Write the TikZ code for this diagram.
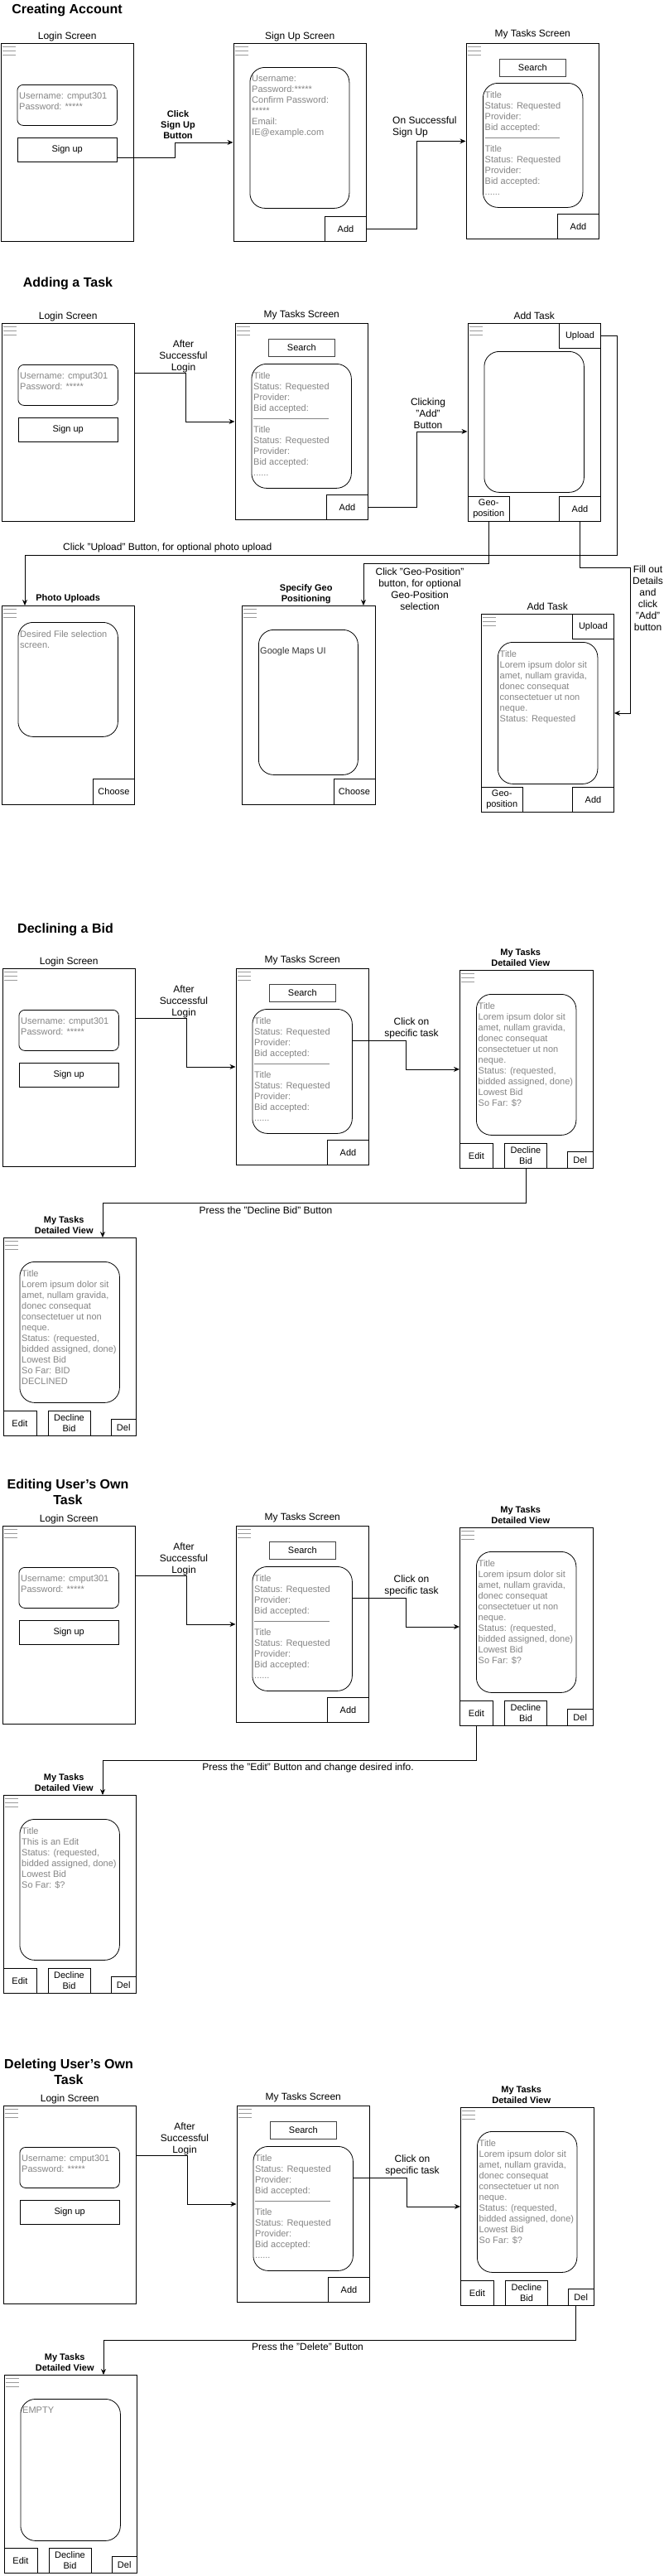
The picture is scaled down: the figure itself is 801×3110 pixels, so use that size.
\documentclass[tikz,border=0pt]{standalone}
\usepackage{fontspec}
\setmainfont{Liberation Sans}
\usetikzlibrary{arrows.meta, positioning}

\definecolor{mockgray}{HTML}{858585}
\definecolor{menugray}{HTML}{9A9A9A}
\definecolor{darktext}{HTML}{333333}

\begin{document}
\begin{tikzpicture}[
        x=1pt, y=-1pt,
        heading/.style={font=\bfseries\fontsize{16}{19}\selectfont, align=center, inner sep=0pt},
        screenlabel/.style={font=\fontsize{12}{14}\selectfont, inner sep=0pt, text depth=2.5pt},
        viewlabel/.style={font=\bfseries\fontsize{11}{13}\selectfont, align=center, inner sep=0pt},
        detaillabel/.style={viewlabel, xshift=-7pt},
        steplabel/.style={font=\fontsize{12}{14}\selectfont, align=center, inner sep=0pt},
        phone/.style={
            draw, 
            line width=0.9pt, 
            anchor=north west, 
            inner sep=0pt, 
            minimum width=160.5pt, 
            minimum height=239pt,
            path picture={
                \foreach \dy in {4pt,9pt,14pt}
                    \draw[menugray, line width=0.6pt] ([xshift=2pt,yshift=-\dy]path picture bounding box.north west) -- ++(16pt,0pt);
            }
        },
        panel/.style={
            draw, 
            line width=0.8pt, 
            rounded corners=18pt, 
            anchor=north west, 
            inner sep=0pt, 
            minimum width=120.5pt
        },
        paneltext/.style={font=\fontsize{11}{13}\selectfont, text=mockgray, align=left, anchor=north west, inner sep=0pt},
        btn/.style={
            draw, 
            fill=white, 
            line width=0.9pt, 
            inner sep=0pt, 
            align=center, 
            font=\fontsize{11}{13}\selectfont, 
            minimum width=50pt, 
            minimum height=30pt
        },
        widebtn/.style={btn, minimum width=120.5pt, minimum height=29pt, anchor=north west},
        searchbtn/.style={btn, draw=black!75, line width=1.2pt, minimum width=80.5pt, minimum height=20.5pt, anchor=north west},
        editbtn/.style={btn, minimum width=40pt, anchor=south west},
        declbtn/.style={btn, minimum width=51pt, anchor=south west},
        delbtn/.style={btn, minimum width=30.5pt, minimum height=20pt, anchor=south east},
        flow/.style={
            line width=0.9pt, 
            -{Stealth[length=7pt, width=6pt]}
        }
    ]

    \path[use as bounding box, fill=white] (0,0) rectangle (801,3110);

    % ---------------- Creating Account ----------------
    \node[heading] (titleA) at (81,12) {Creating Account};

    % Nodes
    \node[phone] (login1) at (0.5,52) {};
    \node[screenlabel, above=2pt of login1] (login1lbl) {Login Screen};
    \node[panel, minimum height=49pt, rounded corners=7pt] (cred1) at ([xshift=20pt,yshift=-50pt]login1.north west) {};
    \node[paneltext] (cred1txt) at ([xshift=2.5pt,yshift=-10pt]cred1.north west) {Username: cmput301\\Password: *****};
    \node[widebtn] (signbtn1) at ([xshift=20pt,yshift=-114pt]login1.north west) {Sign up};

    \node[phone] (signup1) at (281.5,52) {};
    \node[screenlabel, above=2pt of signup1] (signup1lbl) {Sign Up Screen};
    \node[panel, minimum width=120pt, minimum height=170pt] (form1) at ([xshift=20pt,yshift=-29pt]signup1.north west) {};
    \node[paneltext] (form1txt) at ([xshift=2.5pt,yshift=-10pt]form1.north west) {Username:\\Password:*****\\Confirm Password:\\*****\\Email:\\IE@example.com};
    \node[btn, anchor=south east] (addbtn1a) at (signup1.south east) {Add};

    \node[phone, minimum height=236pt] (tasks1) at (562.5,52) {};
    \node[screenlabel, above=5pt of tasks1] (tasks1lbl) {My Tasks Screen};
    \node[searchbtn] (search1) at ([xshift=40pt,yshift=-19pt]tasks1.north west) {Search};
    \node[panel, minimum height=150pt] (list1) at ([xshift=20.5pt,yshift=-48pt]tasks1.north west) {};
    \node[paneltext] (list1txt) at ([xshift=2.5pt,yshift=-10pt]list1.north west) {Title\\Status: Requested\\Provider:\\Bid accepted:\\\rule[3.5pt]{90.5pt}{0.9pt}\\Title\\Status: Requested\\Provider:\\Bid accepted:\\......};
    \node[btn, anchor=south east] (addbtn1b) at (tasks1.south east) {Add};

    % Arrows
    \draw[flow] ([yshift=-9.5pt]signbtn1.east) -- ++(70,0) |- (signup1.west);
    \draw[flow] (addbtn1a.east) -- ++(60.5,0) |- (tasks1.west);

    % Labels
    \node[steplabel, font=\bfseries\fontsize{11}{13}\selectfont] (clicklbl) at (215,151) {Click\\Sign Up\\Button};
    \node[steplabel, align=left, anchor=west] (successlbl) at (474,153) {On Successful\\Sign Up};

    % ---------------- Adding a Task ----------------
    \node[heading] (titleB) at (82,342) {Adding a Task};

    % Nodes
    \node[phone] (login2) at (1.5,390) {};
    \node[screenlabel, above=2pt of login2] (login2lbl) {Login Screen};
    \node[panel, minimum height=49pt, rounded corners=7pt] (cred2) at ([xshift=20pt,yshift=-50pt]login2.north west) {};
    \node[paneltext] (cred2txt) at ([xshift=2.5pt,yshift=-10pt]cred2.north west) {Username: cmput301\\Password: *****};
    \node[widebtn] (signbtn2) at ([xshift=20pt,yshift=-114pt]login2.north west) {Sign up};

    \node[phone, minimum height=237pt] (tasks2) at (283.5,390) {};
    \node[screenlabel, above=4pt of tasks2] (tasks2lbl) {My Tasks Screen};
    \node[searchbtn] (search2) at ([xshift=40pt,yshift=-19pt]tasks2.north west) {Search};
    \node[panel, minimum height=150pt] (list2) at ([xshift=20pt,yshift=-49pt]tasks2.north west) {};
    \node[paneltext] (list2txt) at ([xshift=2.5pt,yshift=-10pt]list2.north west) {Title\\Status: Requested\\Provider:\\Bid accepted:\\\rule[3.5pt]{90.5pt}{0.9pt}\\Title\\Status: Requested\\Provider:\\Bid accepted:\\......};
    \node[btn, anchor=south east] (addbtn2a) at (tasks2.south east) {Add};

    \node[phone] (addtask1) at (564.5,390) {};
    \node[screenlabel, above=2pt of addtask1] (addtask1lbl) {Add Task};
    \node[btn, anchor=north east] (uploadbtn1) at (addtask1.north east) {Upload};
    \node[panel, minimum height=170pt] (blank1) at ([xshift=20pt,yshift=-34pt]addtask1.north west) {};
    \node[btn, minimum width=50.5pt, anchor=south west] (geobtn1) at (addtask1.south west) {Geo-\\position};
    \node[btn, anchor=south east] (addbtn2b) at (addtask1.south east) {Add};

    \node[phone, minimum height=240pt] (photos) at (1.5,731) {};
    \node[viewlabel, above=3.5pt of photos] (photoslbl) {Photo Uploads};
    \node[panel, minimum height=138pt] (files) at ([xshift=20pt,yshift=-20pt]photos.north west) {};
    \node[paneltext] (filestxt) at ([xshift=2.5pt,yshift=-10pt]files.north west) {Desired File selection\\screen.};
    \node[btn, minimum height=31pt, anchor=south east] (choose1) at (photos.south east) {Choose};

    \node[phone, minimum height=240pt] (geoscr) at (292,731) {};
    \node[viewlabel, above=1.5pt of geoscr, xshift=-3pt] (geoscrlbl) {Specify Geo\\Positioning};
    \node[panel, minimum width=120pt, minimum height=175pt] (map) at ([xshift=20pt,yshift=-29pt]geoscr.north west) {};
    \node[font=\fontsize{11}{13}\selectfont, text=darktext, inner sep=0pt, anchor=west] (maptxt) at ([xshift=2pt,yshift=-27pt]map.north west) {Google Maps UI};
    \node[btn, minimum height=31pt, anchor=south east] (choose2) at (geoscr.south east) {Choose};

    \node[phone] (addtask2) at (580.5,741) {};
    \node[screenlabel, above=2pt of addtask2] (addtask2lbl) {Add Task};
    \node[btn, anchor=north east] (uploadbtn2) at (addtask2.north east) {Upload};
    \node[panel, minimum height=171pt] (details) at ([xshift=20.5pt,yshift=-34pt]addtask2.north west) {};
    \node[paneltext] (detailstxt) at ([xshift=2.5pt,yshift=-10pt]details.north west) {Title\\Lorem ipsum dolor sit\\amet, nullam gravida,\\donec consequat\\consectetuer ut non\\neque.\\Status: Requested};
    \node[btn, minimum width=50.5pt, anchor=south west] (geobtn2) at (addtask2.south west) {Geo-\\position};
    \node[btn, anchor=south east] (addbtn2c) at (addtask2.south east) {Add};

    % Arrows
    \draw[flow] ([yshift=-60pt]login2.north east) -- ++(61.5,0) |- (tasks2.west);
    \draw[flow] (addbtn2a.east) -- ++(58.5,0) |- ([yshift=-11pt]addtask1.west);
    \coordinate (uploadturn) at (745,670);
    \coordinate (geoturn) at (439,680);
    \coordinate (fillturn) at (761,685);
    \draw[flow] (uploadbtn1.east) -| (uploadturn) -| ([xshift=28.5pt]photos.north west);
    \draw[flow] (geobtn1.south) |- (geoturn) -- (geoturn |- geoscr.north);
    \draw[flow] (addbtn2b.south) |- (fillturn) |- (addtask2.east);

    % Labels
    \node[steplabel] (after2) at (221.5,430) {After\\Successful\\Login};
    \node[steplabel] (clickadd) at (517,499) {Clicking\\"Add"\\Button};
    \node[steplabel, anchor=west] (uploadlbl) at (76,661) {Click "Upload" Button, for optional photo upload};
    \node[steplabel] (geolbl) at (507,711) {Click "Geo-Position"\\button, for optional\\Geo-Position\\selection};
    \node[steplabel] (filllbl) at (782.5,722) {Fill out\\Details\\and\\click\\"Add"\\button};

    % ---------------- Declining a Bid ----------------
    \node[heading] (titleC) at (79,1122) {Declining a Bid};

    % Nodes
    \node[phone] (login3) at (2.5,1169) {};
    \node[screenlabel, above=2pt of login3] (login3lbl) {Login Screen};
    \node[panel, minimum height=49pt, rounded corners=7pt] (cred3) at ([xshift=20pt,yshift=-50pt]login3.north west) {};
    \node[paneltext] (cred3txt) at ([xshift=2.5pt,yshift=-10pt]cred3.north west) {Username: cmput301\\Password: *****};
    \node[widebtn] (signbtn3) at ([xshift=20pt,yshift=-114pt]login3.north west) {Sign up};

    \node[phone, minimum height=237pt] (tasks3) at (284.5,1169) {};
    \node[screenlabel, above=4pt of tasks3] (tasks3lbl) {My Tasks Screen};
    \node[searchbtn] (search3) at ([xshift=40pt,yshift=-19pt]tasks3.north west) {Search};
    \node[panel, minimum height=150pt] (list3) at ([xshift=20pt,yshift=-49pt]tasks3.north west) {};
    \node[paneltext] (list3txt) at ([xshift=2.5pt,yshift=-10pt]list3.north west) {Title\\Status: Requested\\Provider:\\Bid accepted:\\\rule[3.5pt]{90.5pt}{0.9pt}\\Title\\Status: Requested\\Provider:\\Bid accepted:\\......};
    \node[btn, anchor=south east] (addbtn3) at (tasks3.south east) {Add};

    \node[phone] (detail3) at (555,1171) {};
    \node[detaillabel, above=4.5pt of detail3] (detail3lbl) {My Tasks\\Detailed View};
    \node[panel, minimum height=170pt] (info3) at ([xshift=20pt,yshift=-29pt]detail3.north west) {};
    \node[paneltext] (info3txt) at ([xshift=2.5pt,yshift=-10pt]info3.north west) {Title\\Lorem ipsum dolor sit\\amet, nullam gravida,\\donec consequat\\consectetuer ut non\\neque.\\Status: (requested,\\bidded assigned, done)\\Lowest Bid\\So Far: \$?};
    \node[editbtn] (editbtn3) at (detail3.south west) {Edit};
    \node[declbtn] (declbtn3) at ([xshift=54pt]detail3.south west) {Decline\\Bid};
    \node[delbtn] (delbtn3) at (detail3.south east) {Del};

    \node[phone] (detailb3) at (3.5,1494) {};
    \node[detaillabel, above=4.5pt of detailb3] (detailb3lbl) {My Tasks\\Detailed View};
    \node[panel, minimum height=170pt] (infob3) at ([xshift=20pt,yshift=-29pt]detailb3.north west) {};
    \node[paneltext] (infob3txt) at ([xshift=2.5pt,yshift=-10pt]infob3.north west) {Title\\Lorem ipsum dolor sit\\amet, nullam gravida,\\donec consequat\\consectetuer ut non\\neque.\\Status: (requested,\\bidded assigned, done)\\Lowest Bid\\So Far: BID\\DECLINED};
    \node[editbtn] (editbtnb3) at (detailb3.south west) {Edit};
    \node[declbtn] (declbtnb3) at ([xshift=54pt]detailb3.south west) {Decline\\Bid};
    \node[delbtn] (delbtnb3) at (detailb3.south east) {Del};

    % Arrows
    \draw[flow] ([yshift=-60pt]login3.north east) -- ++(61.5,0) |- (tasks3.west);
    \draw[flow] ([yshift=-38pt]list3.north east) -- ++(65,0) |- (detail3.west);
    \coordinate (declturn) at (124,1452);
    \draw[flow] (declbtn3.south) |- (declturn) -- (declturn |- detailb3.north);

    % Labels
    \node[steplabel] (after3) at (222,1209) {After\\Successful\\Login};
    \node[steplabel] (clicktask3) at (497,1241) {Click on\\specific task};
    \node[steplabel] (declinelbl) at (321,1461) {Press the "Decline Bid" Button};

    % ---------------- Editing User's Own Task ----------------
    \node[heading] (titleD) at (82,1801.5) {Editing User's Own\\Task};

    % Nodes
    \node[phone] (login4) at (2.5,1842) {};
    \node[screenlabel, above=2pt of login4] (login4lbl) {Login Screen};
    \node[panel, minimum height=49pt, rounded corners=7pt] (cred4) at ([xshift=20pt,yshift=-50pt]login4.north west) {};
    \node[paneltext] (cred4txt) at ([xshift=2.5pt,yshift=-10pt]cred4.north west) {Username: cmput301\\Password: *****};
    \node[widebtn] (signbtn4) at ([xshift=20pt,yshift=-114pt]login4.north west) {Sign up};

    \node[phone, minimum height=237pt] (tasks4) at (284.5,1842) {};
    \node[screenlabel, above=4pt of tasks4] (tasks4lbl) {My Tasks Screen};
    \node[searchbtn] (search4) at ([xshift=40pt,yshift=-19pt]tasks4.north west) {Search};
    \node[panel, minimum height=150pt] (list4) at ([xshift=20pt,yshift=-49pt]tasks4.north west) {};
    \node[paneltext] (list4txt) at ([xshift=2.5pt,yshift=-10pt]list4.north west) {Title\\Status: Requested\\Provider:\\Bid accepted:\\\rule[3.5pt]{90.5pt}{0.9pt}\\Title\\Status: Requested\\Provider:\\Bid accepted:\\......};
    \node[btn, anchor=south east] (addbtn4) at (tasks4.south east) {Add};

    \node[phone] (detail4) at (555,1844) {};
    \node[detaillabel, above=4.5pt of detail4] (detail4lbl) {My Tasks\\Detailed View};
    \node[panel, minimum height=170pt] (info4) at ([xshift=20pt,yshift=-29pt]detail4.north west) {};
    \node[paneltext] (info4txt) at ([xshift=2.5pt,yshift=-10pt]info4.north west) {Title\\Lorem ipsum dolor sit\\amet, nullam gravida,\\donec consequat\\consectetuer ut non\\neque.\\Status: (requested,\\bidded assigned, done)\\Lowest Bid\\So Far: \$?};
    \node[editbtn] (editbtn4) at (detail4.south west) {Edit};
    \node[declbtn] (declbtn4) at ([xshift=54pt]detail4.south west) {Decline\\Bid};
    \node[delbtn] (delbtn4) at (detail4.south east) {Del};

    \node[phone] (detailb4) at (3.5,2167) {};
    \node[detaillabel, above=4.5pt of detailb4] (detailb4lbl) {My Tasks\\Detailed View};
    \node[panel, minimum height=170pt] (infob4) at ([xshift=20pt,yshift=-29pt]detailb4.north west) {};
    \node[paneltext] (infob4txt) at ([xshift=2.5pt,yshift=-10pt]infob4.north west) {Title\\This is an Edit\\Status: (requested,\\bidded assigned, done)\\Lowest Bid\\So Far: \$?};
    \node[editbtn] (editbtnb4) at (detailb4.south west) {Edit};
    \node[declbtn] (declbtnb4) at ([xshift=54pt]detailb4.south west) {Decline\\Bid};
    \node[delbtn] (delbtnb4) at (detailb4.south east) {Del};

    % Arrows
    \draw[flow] ([yshift=-60pt]login4.north east) -- ++(61.5,0) |- (tasks4.west);
    \draw[flow] ([yshift=-38pt]list4.north east) -- ++(65,0) |- (detail4.west);
    \coordinate (editturn) at (124,2125);
    \draw[flow] (editbtn4.south) |- (editturn) -- (editturn |- detailb4.north);

    % Labels
    \node[steplabel] (after4) at (222,1882) {After\\Successful\\Login};
    \node[steplabel] (clicktask4) at (497,1914) {Click on\\specific task};
    \node[steplabel] (editlbl) at (372,2134) {Press the "Edit" Button and change desired info.};

    % ---------------- Deleting User's Own Task ----------------
    \node[heading] (titleE) at (83,2501.5) {Deleting User's Own\\Task};

    % Nodes
    \node[phone] (login5) at (3.5,2542) {};
    \node[screenlabel, above=2pt of login5] (login5lbl) {Login Screen};
    \node[panel, minimum height=49pt, rounded corners=7pt] (cred5) at ([xshift=20pt,yshift=-50pt]login5.north west) {};
    \node[paneltext] (cred5txt) at ([xshift=2.5pt,yshift=-10pt]cred5.north west) {Username: cmput301\\Password: *****};
    \node[widebtn] (signbtn5) at ([xshift=20pt,yshift=-114pt]login5.north west) {Sign up};

    \node[phone, minimum height=237pt] (tasks5) at (285.5,2542) {};
    \node[screenlabel, above=4pt of tasks5] (tasks5lbl) {My Tasks Screen};
    \node[searchbtn] (search5) at ([xshift=40pt,yshift=-19pt]tasks5.north west) {Search};
    \node[panel, minimum height=150pt] (list5) at ([xshift=20pt,yshift=-49pt]tasks5.north west) {};
    \node[paneltext] (list5txt) at ([xshift=2.5pt,yshift=-10pt]list5.north west) {Title\\Status: Requested\\Provider:\\Bid accepted:\\\rule[3.5pt]{90.5pt}{0.9pt}\\Title\\Status: Requested\\Provider:\\Bid accepted:\\......};
    \node[btn, anchor=south east] (addbtn5) at (tasks5.south east) {Add};

    \node[phone] (detail5) at (556,2544) {};
    \node[detaillabel, above=4.5pt of detail5] (detail5lbl) {My Tasks\\Detailed View};
    \node[panel, minimum height=170pt] (info5) at ([xshift=20pt,yshift=-29pt]detail5.north west) {};
    \node[paneltext] (info5txt) at ([xshift=2.5pt,yshift=-10pt]info5.north west) {Title\\Lorem ipsum dolor sit\\amet, nullam gravida,\\donec consequat\\consectetuer ut non\\neque.\\Status: (requested,\\bidded assigned, done)\\Lowest Bid\\So Far: \$?};
    \node[editbtn] (editbtn5) at (detail5.south west) {Edit};
    \node[declbtn] (declbtn5) at ([xshift=54pt]detail5.south west) {Decline\\Bid};
    \node[delbtn] (delbtn5) at (detail5.south east) {Del};

    \node[phone] (detailb5) at (4.5,2867) {};
    \node[detaillabel, above=4.5pt of detailb5] (detailb5lbl) {My Tasks\\Detailed View};
    \node[panel, minimum height=171pt] (infob5) at ([xshift=20pt,yshift=-29pt]detailb5.north west) {};
    \node[paneltext] (infob5txt) at ([xshift=2.5pt,yshift=-10pt]infob5.north west) {EMPTY};
    \node[editbtn] (editbtnb5) at (detailb5.south west) {Edit};
    \node[declbtn] (declbtnb5) at ([xshift=54pt]detailb5.south west) {Decline\\Bid};
    \node[delbtn] (delbtnb5) at (detailb5.south east) {Del};

    % Arrows
    \draw[flow] ([yshift=-60pt]login5.north east) -- ++(61.5,0) |- (tasks5.west);
    \draw[flow] ([yshift=-38pt]list5.north east) -- ++(65,0) |- (detail5.west);
    \coordinate (delturn) at (125,2825);
    \draw[flow] ([xshift=-6pt]delbtn5.south) |- (delturn) -- (delturn |- detailb5.north);

    % Labels
    \node[steplabel] (after5) at (223,2582) {After\\Successful\\Login};
    \node[steplabel] (clicktask5) at (498,2614) {Click on\\specific task};
    \node[steplabel] (deletelbl) at (371.5,2833) {Press the "Delete" Button};

\end{tikzpicture}
\end{document}
